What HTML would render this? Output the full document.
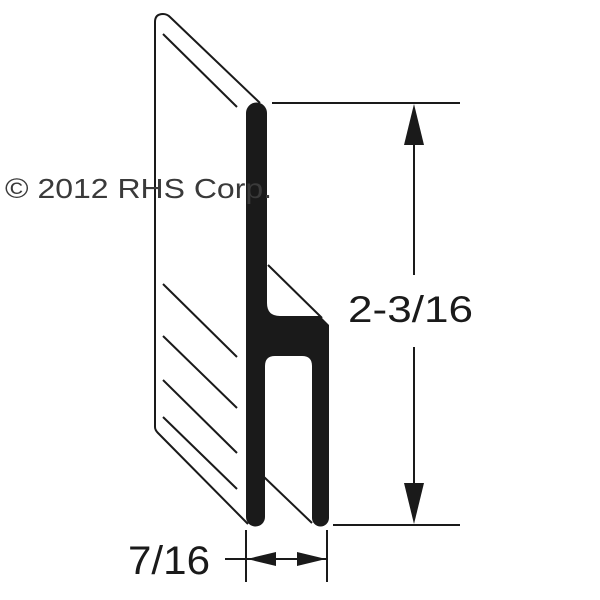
<!DOCTYPE html>
<html><head><meta charset="utf-8"><style>html,body{margin:0;padding:0;background:#fff}svg{display:block}</style></head>
<body>
<svg width="600" height="600" viewBox="0 0 600 600" xmlns="http://www.w3.org/2000/svg">
<g fill="none" stroke="#1a1a1a" stroke-width="2">
<path d="M260,103 L170,17 Q167,14 163,14 Q155,14 155,22 L155,427 Q155,430 158,433 L248,524"/>
<line x1="163" y1="34" x2="237" y2="107"/>
<line x1="163" y1="284" x2="237" y2="357"/>
<line x1="163" y1="336" x2="237" y2="408"/>
<line x1="163" y1="380" x2="237" y2="453"/>
<line x1="163" y1="417" x2="237" y2="489"/>
<line x1="268" y1="265" x2="322" y2="318"/>
<line x1="264" y1="477" x2="312" y2="523"/>
<line x1="272" y1="103" x2="460" y2="103"/>
<line x1="333" y1="525" x2="460" y2="525"/>
<line x1="414" y1="135" x2="414" y2="275"/>
<line x1="414" y1="347" x2="414" y2="495"/>
<line x1="246" y1="530" x2="246" y2="582"/>
<line x1="327" y1="530" x2="327" y2="582"/>
<line x1="225" y1="559" x2="327" y2="559"/>
</g>
<g fill="#1a1a1a">
<polygon points="414,104 404,145 424,145"/>
<polygon points="414,524 404,483 424,483"/>
<polygon points="247,559 276,552 276,566"/>
<polygon points="326,559 297,552 297,566"/>
<path d="M246,113 A10.5,10.5 0 0 1 267,113 L267,303 Q267,316 280,316 L320,316 L329,325 L329,518 A8.5,8.5 0 0 1 312,518 L312,366 Q312,356 302,356 L275,356 Q265,356 265,366 L265,517 A9.5,9.5 0 0 1 246,517 Z"/>
</g>
<g font-family="Liberation Sans, Arial, sans-serif" fill="#1a1a1a">
<text x="5" y="198" font-size="28" fill="#3a3a3a" textLength="267" lengthAdjust="spacingAndGlyphs">© 2012 RHS Corp.</text>
<text x="348" y="322" font-size="37" textLength="125" lengthAdjust="spacingAndGlyphs">2-3/16</text>
<text x="128" y="574" font-size="40" textLength="82" lengthAdjust="spacingAndGlyphs">7/16</text>
</g>
</svg>
</body></html>
